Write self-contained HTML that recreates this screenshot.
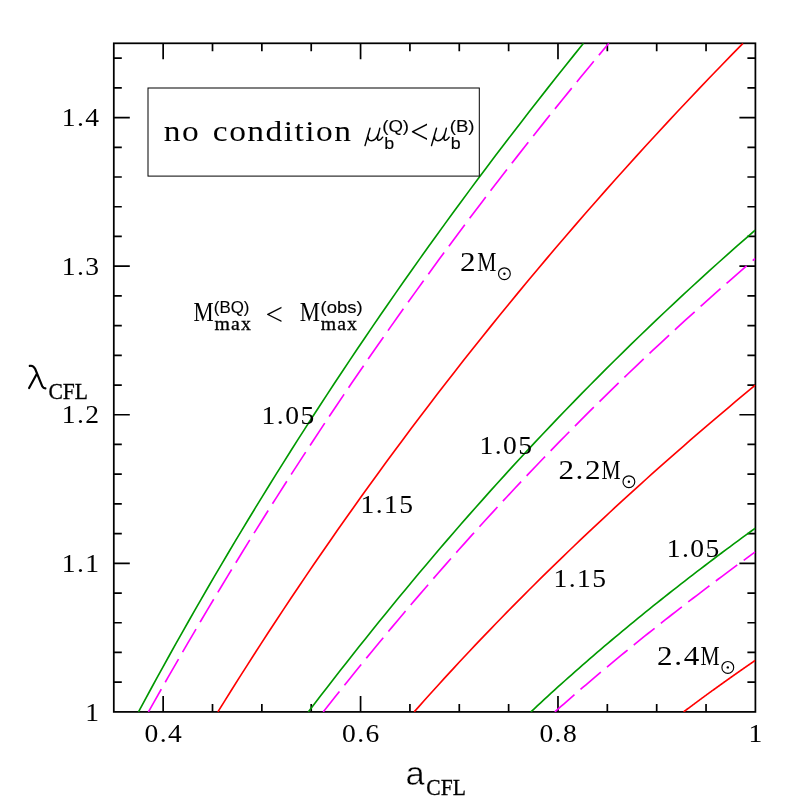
<!DOCTYPE html>
<html><head><meta charset="utf-8"><title>plot</title>
<style>html,body{margin:0;padding:0;background:#fff}svg{display:block}text{fill:#000}.lab{filter:grayscale(1)}</style></head>
<body><svg width="797" height="797" viewBox="0 0 797 797">
<rect width="797" height="797" fill="#fff"/>
<defs><clipPath id="c"><rect x="113.8" y="43.3" width="641.6" height="668.6"/></clipPath></defs>
<path d="M163.15,711.9 v-16 M163.15,43.3 v16 M212.51,711.9 v-8 M212.51,43.3 v8 M261.86,711.9 v-8 M261.86,43.3 v8 M311.22,711.9 v-8 M311.22,43.3 v8 M360.57,711.9 v-16 M360.57,43.3 v16 M409.92,711.9 v-8 M409.92,43.3 v8 M459.28,711.9 v-8 M459.28,43.3 v8 M508.63,711.9 v-8 M508.63,43.3 v8 M557.98,711.9 v-16 M557.98,43.3 v16 M607.34,711.9 v-8 M607.34,43.3 v8 M656.69,711.9 v-8 M656.69,43.3 v8 M706.05,711.9 v-8 M706.05,43.3 v8 M113.8,682.18 h8 M755.4,682.18 h-8 M113.8,652.47 h8 M755.4,652.47 h-8 M113.8,622.75 h8 M755.4,622.75 h-8 M113.8,593.04 h8 M755.4,593.04 h-8 M113.8,563.32 h16 M755.4,563.32 h-16 M113.8,533.61 h8 M755.4,533.61 h-8 M113.8,503.89 h8 M755.4,503.89 h-8 M113.8,474.18 h8 M755.4,474.18 h-8 M113.8,444.46 h8 M755.4,444.46 h-8 M113.8,414.74 h16 M755.4,414.74 h-16 M113.8,385.03 h8 M755.4,385.03 h-8 M113.8,355.31 h8 M755.4,355.31 h-8 M113.8,325.60 h8 M755.4,325.60 h-8 M113.8,295.88 h8 M755.4,295.88 h-8 M113.8,266.17 h16 M755.4,266.17 h-16 M113.8,236.45 h8 M755.4,236.45 h-8 M113.8,206.74 h8 M755.4,206.74 h-8 M113.8,177.02 h8 M755.4,177.02 h-8 M113.8,147.30 h8 M755.4,147.30 h-8 M113.8,117.59 h16 M755.4,117.59 h-16 M113.8,87.87 h8 M755.4,87.87 h-8 M113.8,58.16 h8 M755.4,58.16 h-8" stroke="#000" stroke-width="1.7" fill="none"/>
<rect x="113.8" y="43.3" width="641.6" height="668.6" fill="none" stroke="#000" stroke-width="1.75"/>
<g clip-path="url(#c)">
<path d="M138.49,711.90 L144.59,700.57 L150.74,689.24 L156.93,677.90 L163.17,666.57 L169.45,655.24 L175.77,643.91 L182.14,632.57 L188.56,621.24 L195.03,609.91 L201.54,598.58 L208.09,587.25 L214.70,575.91 L221.35,564.58 L228.05,553.25 L234.80,541.92 L241.59,530.58 L248.44,519.25 L255.33,507.92 L262.27,496.59 L269.27,485.26 L276.31,473.92 L283.40,462.59 L290.54,451.26 L297.73,439.93 L304.98,428.59 L312.27,417.26 L319.61,405.93 L327.01,394.60 L334.46,383.27 L341.96,371.93 L349.52,360.60 L357.12,349.27 L364.78,337.94 L372.49,326.61 L380.26,315.27 L388.08,303.94 L395.96,292.61 L403.89,281.28 L411.87,269.94 L419.91,258.61 L428.00,247.28 L436.15,235.95 L444.36,224.62 L452.62,213.28 L460.94,201.95 L469.31,190.62 L477.74,179.29 L486.23,167.95 L494.78,156.62 L503.39,145.29 L512.05,133.96 L520.77,122.63 L529.55,111.29 L538.39,99.96 L547.29,88.63 L556.24,77.30 L565.26,65.96 L574.34,54.63 L583.48,43.30" fill="none" stroke="#009900" stroke-width="1.65"/>
<path d="M148.43,711.90 L154.82,700.57 L161.24,689.24 L167.70,677.90 L174.21,666.57 L180.75,655.24 L187.34,643.91 L193.97,632.57 L200.64,621.24 L207.36,609.91 L214.12,598.58 L220.93,587.25 L227.78,575.91 L234.68,564.58 L241.62,553.25 L248.61,541.92 L255.64,530.58 L262.73,519.25 L269.86,507.92 L277.03,496.59 L284.26,485.26 L291.54,473.92 L298.86,462.59 L306.24,451.26 L313.66,439.93 L321.14,428.59 L328.67,417.26 L336.25,405.93 L343.88,394.60 L351.56,383.27 L359.30,371.93 L367.09,360.60 L374.94,349.27 L382.84,337.94 L390.79,326.61 L398.80,315.27 L406.87,303.94 L414.99,292.61 L423.17,281.28 L431.40,269.94 L439.70,258.61 L448.05,247.28 L456.46,235.95 L464.93,224.62 L473.46,213.28 L482.05,201.95 L490.70,190.62 L499.41,179.29 L508.18,167.95 L517.01,156.62 L525.91,145.29 L534.86,133.96 L543.88,122.63 L552.97,111.29 L562.12,99.96 L571.33,88.63 L580.61,77.30 L589.95,65.96 L599.36,54.63 L608.83,43.30" fill="none" stroke="#ff00ff" stroke-width="1.65" stroke-dasharray="26.7 8" stroke-dashoffset="0.6"/>
<path d="M217.85,711.90 L224.90,700.57 L232.00,689.24 L239.15,677.90 L246.35,666.57 L253.61,655.24 L260.93,643.91 L268.30,632.57 L275.72,621.24 L283.21,609.91 L290.75,598.58 L298.35,587.25 L306.01,575.91 L313.72,564.58 L321.50,553.25 L329.33,541.92 L337.23,530.58 L345.19,519.25 L353.21,507.92 L361.30,496.59 L369.44,485.26 L377.66,473.92 L385.93,462.59 L394.27,451.26 L402.68,439.93 L411.15,428.59 L419.69,417.26 L428.30,405.93 L436.98,394.60 L445.72,383.27 L454.54,371.93 L463.42,360.60 L472.37,349.27 L481.40,337.94 L490.50,326.61 L499.67,315.27 L508.91,303.94 L518.22,292.61 L527.61,281.28 L537.08,269.94 L546.62,258.61 L556.23,247.28 L565.93,235.95 L575.70,224.62 L585.54,213.28 L595.47,201.95 L605.47,190.62 L615.56,179.29 L625.72,167.95 L635.96,156.62 L646.29,145.29 L656.70,133.96 L667.19,122.63 L677.76,111.29 L688.42,99.96 L699.16,88.63 L709.98,77.30 L720.90,65.96 L731.89,54.63 L742.98,43.30" fill="none" stroke="#ff0000" stroke-width="1.65"/>
<path d="M308.28,711.90 L314.53,703.73 L320.80,695.57 L327.11,687.40 L333.45,679.24 L339.82,671.07 L346.23,662.90 L352.67,654.74 L359.14,646.57 L365.66,638.41 L372.20,630.24 L378.79,622.07 L385.42,613.91 L392.08,605.74 L398.79,597.57 L405.54,589.41 L412.32,581.24 L419.16,573.08 L426.03,564.91 L432.95,556.74 L439.91,548.58 L446.92,540.41 L453.98,532.25 L461.08,524.08 L468.24,515.91 L475.44,507.75 L482.69,499.58 L489.99,491.42 L497.34,483.25 L504.75,475.08 L512.21,466.92 L519.72,458.75 L527.29,450.58 L534.91,442.42 L542.59,434.25 L550.32,426.09 L558.12,417.92 L565.97,409.75 L573.88,401.59 L581.85,393.42 L589.89,385.26 L597.98,377.09 L606.14,368.92 L614.36,360.76 L622.65,352.59 L631.00,344.43 L639.41,336.26 L647.90,328.09 L656.45,319.93 L665.07,311.76 L673.75,303.59 L682.51,295.43 L691.34,287.26 L700.24,279.10 L709.21,270.93 L718.26,262.76 L727.38,254.60 L736.57,246.43 L745.84,238.27 L755.18,230.10" fill="none" stroke="#009900" stroke-width="1.65"/>
<path d="M323.20,711.90 L329.28,704.22 L335.39,696.53 L341.53,688.85 L347.70,681.16 L353.90,673.48 L360.14,665.79 L366.41,658.11 L372.71,650.42 L379.05,642.74 L385.43,635.05 L391.84,627.37 L398.28,619.68 L404.77,612.00 L411.29,604.31 L417.86,596.63 L424.46,588.94 L431.10,581.26 L437.79,573.57 L444.51,565.89 L451.28,558.21 L458.09,550.52 L464.95,542.84 L471.84,535.15 L478.79,527.47 L485.78,519.78 L492.81,512.10 L499.89,504.41 L507.02,496.73 L514.20,489.04 L521.43,481.36 L528.71,473.67 L536.03,465.99 L543.41,458.30 L550.84,450.62 L558.32,442.93 L565.85,435.25 L573.44,427.56 L581.08,419.88 L588.78,412.19 L596.53,404.51 L604.34,396.83 L612.21,389.14 L620.13,381.46 L628.11,373.77 L636.15,366.09 L644.25,358.40 L652.41,350.72 L660.63,343.03 L668.91,335.35 L677.25,327.66 L685.66,319.98 L694.13,312.29 L702.66,304.61 L711.26,296.92 L719.92,289.24 L728.65,281.55 L737.45,273.87 L746.31,266.18 L755.24,258.50" fill="none" stroke="#ff00ff" stroke-width="1.65" stroke-dasharray="26.7 8" stroke-dashoffset="0.6"/>
<path d="M414.19,711.90 L419.09,706.36 L424.02,700.82 L428.98,695.28 L433.97,689.74 L438.99,684.21 L444.04,678.67 L449.12,673.13 L454.23,667.59 L459.37,662.05 L464.54,656.51 L469.74,650.97 L474.97,645.43 L480.23,639.89 L485.52,634.35 L490.84,628.82 L496.19,623.28 L501.58,617.74 L506.99,612.20 L512.43,606.66 L517.90,601.12 L523.41,595.58 L528.94,590.04 L534.51,584.50 L540.10,578.96 L545.73,573.43 L551.38,567.89 L557.07,562.35 L562.78,556.81 L568.53,551.27 L574.31,545.73 L580.12,540.19 L585.96,534.65 L591.83,529.11 L597.73,523.57 L603.66,518.04 L609.62,512.50 L615.62,506.96 L621.64,501.42 L627.69,495.88 L633.78,490.34 L639.89,484.80 L646.04,479.26 L652.22,473.72 L658.43,468.18 L664.67,462.65 L670.94,457.11 L677.24,451.57 L683.57,446.03 L689.94,440.49 L696.33,434.95 L702.76,429.41 L709.21,423.87 L715.70,418.33 L722.22,412.79 L728.77,407.26 L735.35,401.72 L741.96,396.18 L748.61,390.64 L755.28,385.10" fill="none" stroke="#ff0000" stroke-width="1.65"/>
<path d="M530.86,711.90 L534.19,708.78 L537.53,705.67 L540.88,702.55 L544.26,699.44 L547.65,696.32 L551.05,693.21 L554.48,690.09 L557.92,686.98 L561.37,683.86 L564.85,680.75 L568.33,677.63 L571.84,674.52 L575.36,671.40 L578.90,668.29 L582.46,665.17 L586.03,662.06 L589.62,658.94 L593.23,655.83 L596.85,652.71 L600.49,649.59 L604.14,646.48 L607.82,643.36 L611.50,640.25 L615.21,637.13 L618.93,634.02 L622.67,630.90 L626.43,627.79 L630.20,624.67 L633.99,621.56 L637.79,618.44 L641.61,615.33 L645.45,612.21 L649.31,609.10 L653.18,605.98 L657.07,602.87 L660.97,599.75 L664.89,596.64 L668.83,593.52 L672.78,590.41 L676.76,587.29 L680.74,584.17 L684.75,581.06 L688.77,577.94 L692.81,574.83 L696.86,571.71 L700.93,568.60 L705.02,565.48 L709.12,562.37 L713.24,559.25 L717.38,556.14 L721.53,553.02 L725.70,549.91 L729.89,546.79 L734.09,543.68 L738.31,540.56 L742.55,537.45 L746.80,534.33 L751.07,531.22 L755.36,528.10" fill="none" stroke="#009900" stroke-width="1.65"/>
<path d="M554.81,711.90 L557.88,709.19 L560.96,706.48 L564.04,703.76 L567.14,701.05 L570.25,698.34 L573.38,695.63 L576.51,692.92 L579.65,690.21 L582.81,687.49 L585.98,684.78 L589.16,682.07 L592.35,679.36 L595.55,676.65 L598.76,673.93 L601.99,671.22 L605.23,668.51 L608.47,665.80 L611.73,663.09 L615.00,660.37 L618.29,657.66 L621.58,654.95 L624.88,652.24 L628.20,649.53 L631.53,646.82 L634.87,644.10 L638.22,641.39 L641.58,638.68 L644.96,635.97 L648.34,633.26 L651.74,630.54 L655.14,627.83 L658.56,625.12 L661.99,622.41 L665.44,619.70 L668.89,616.98 L672.36,614.27 L675.83,611.56 L679.32,608.85 L682.82,606.14 L686.33,603.43 L689.85,600.71 L693.38,598.00 L696.93,595.29 L700.49,592.58 L704.05,589.87 L707.63,587.15 L711.22,584.44 L714.83,581.73 L718.44,579.02 L722.06,576.31 L725.70,573.59 L729.35,570.88 L733.01,568.17 L736.68,565.46 L740.36,562.75 L744.05,560.04 L747.76,557.32 L751.48,554.61 L755.20,551.90" fill="none" stroke="#ff00ff" stroke-width="1.65" stroke-dasharray="26.7 8" stroke-dashoffset="0.6"/>
<path d="M683.60,711.90 L684.75,711.03 L685.91,710.15 L687.07,709.28 L688.23,708.41 L689.40,707.54 L690.56,706.66 L691.73,705.79 L692.90,704.92 L694.07,704.04 L695.24,703.17 L696.42,702.30 L697.60,701.43 L698.78,700.55 L699.96,699.68 L701.14,698.81 L702.33,697.93 L703.52,697.06 L704.71,696.19 L705.90,695.32 L707.09,694.44 L708.29,693.57 L709.49,692.70 L710.69,691.82 L711.89,690.95 L713.10,690.08 L714.30,689.21 L715.51,688.33 L716.72,687.46 L717.94,686.59 L719.15,685.71 L720.37,684.84 L721.59,683.97 L722.81,683.09 L724.03,682.22 L725.26,681.35 L726.49,680.48 L727.72,679.60 L728.95,678.73 L730.18,677.86 L731.42,676.98 L732.66,676.11 L733.90,675.24 L735.14,674.37 L736.38,673.49 L737.63,672.62 L738.88,671.75 L740.13,670.87 L741.38,670.00 L742.64,669.13 L743.89,668.26 L745.15,667.38 L746.41,666.51 L747.68,665.64 L748.94,664.76 L750.21,663.89 L751.48,663.02 L752.75,662.15 L754.02,661.27 L755.30,660.40" fill="none" stroke="#ff0000" stroke-width="1.65"/>
</g>
<g class="lab">
<text transform="translate(163.95,742.00) scale(1.12,1.0)" font-family="Liberation Serif" font-size="24.6" text-anchor="middle" letter-spacing="1.3">0.4</text>
<text transform="translate(361.37,742.00) scale(1.12,1.0)" font-family="Liberation Serif" font-size="24.6" text-anchor="middle" letter-spacing="1.3">0.6</text>
<text transform="translate(558.78,742.00) scale(1.12,1.0)" font-family="Liberation Serif" font-size="24.6" text-anchor="middle" letter-spacing="1.3">0.8</text>
<text transform="translate(756.20,742.00) scale(1.12,1.0)" font-family="Liberation Serif" font-size="24.6" text-anchor="middle" letter-spacing="1.3">1</text>
<text transform="translate(100.50,720.60) scale(1.12,1.0)" font-family="Liberation Serif" font-size="24.6" text-anchor="end" letter-spacing="1.3">1</text>
<text transform="translate(100.50,572.02) scale(1.12,1.0)" font-family="Liberation Serif" font-size="24.6" text-anchor="end" letter-spacing="1.3">1.1</text>
<text transform="translate(100.50,423.44) scale(1.12,1.0)" font-family="Liberation Serif" font-size="24.6" text-anchor="end" letter-spacing="1.3">1.2</text>
<text transform="translate(100.50,274.87) scale(1.12,1.0)" font-family="Liberation Serif" font-size="24.6" text-anchor="end" letter-spacing="1.3">1.3</text>
<text transform="translate(100.50,126.29) scale(1.12,1.0)" font-family="Liberation Serif" font-size="24.6" text-anchor="end" letter-spacing="1.3">1.4</text>
<text transform="translate(261.60,423.70) scale(1.12,1.0)" font-family="Liberation Serif" font-size="24.6" text-anchor="start" letter-spacing="1.3">1.05</text>
<text transform="translate(360.40,512.50) scale(1.12,1.0)" font-family="Liberation Serif" font-size="24.6" text-anchor="start" letter-spacing="1.3">1.15</text>
<text transform="translate(479.40,453.50) scale(1.12,1.0)" font-family="Liberation Serif" font-size="24.6" text-anchor="start" letter-spacing="1.3">1.05</text>
<text transform="translate(553.40,586.80) scale(1.12,1.0)" font-family="Liberation Serif" font-size="24.6" text-anchor="start" letter-spacing="1.3">1.15</text>
<text transform="translate(666.80,557.10) scale(1.12,1.0)" font-family="Liberation Serif" font-size="24.6" text-anchor="start" letter-spacing="1.3">1.05</text>
<text transform="translate(460.00,271.40) scale(1.1,1.0)" font-family="Liberation Serif" font-size="28.3" text-anchor="start" letter-spacing="1.5">2</text>
<text transform="translate(477.30,271.40) scale(0.76,1.0)" font-family="Liberation Serif" font-size="28.3" text-anchor="start">M</text>
<circle cx="504.4" cy="273.7" r="5.9" fill="none" stroke="#000" stroke-width="1.15"/><circle cx="504.4" cy="273.7" r="1.2" fill="#000"/>
<text transform="translate(558.40,479.00) scale(1.1,1.0)" font-family="Liberation Serif" font-size="28.3" text-anchor="start" letter-spacing="1.5">2.2</text>
<text transform="translate(601.40,479.00) scale(0.76,1.0)" font-family="Liberation Serif" font-size="28.3" text-anchor="start">M</text>
<circle cx="628.9" cy="481.7" r="5.9" fill="none" stroke="#000" stroke-width="1.15"/><circle cx="628.9" cy="481.7" r="1.2" fill="#000"/>
<text transform="translate(657.10,664.90) scale(1.1,1.0)" font-family="Liberation Serif" font-size="28.3" text-anchor="start" letter-spacing="1.5">2.4</text>
<text transform="translate(700.40,664.90) scale(0.76,1.0)" font-family="Liberation Serif" font-size="28.3" text-anchor="start">M</text>
<circle cx="727.8" cy="667.4" r="5.9" fill="none" stroke="#000" stroke-width="1.15"/><circle cx="727.8" cy="667.4" r="1.2" fill="#000"/>
<rect x="148" y="88" width="331.3" height="88.1" fill="none" stroke="#000" stroke-width="1"/>
<text transform="translate(163.80,140.70) scale(1.08,0.93)" font-family="Liberation Serif" font-size="31" text-anchor="start" letter-spacing="1.35" word-spacing="2.6">no condition</text>
<path transform="translate(0,0)" d="M370.0,128.3 L365.0,145.6 M368.1,136.6 C367.6,141.6 372.6,141.6 375.6,138.7 Q377.5,136.6 378.4,133.8 M379.8,128.3 L377.7,136.8 Q377.0,140.5 379.0,140.2 Q381.0,139.9 382.7,137.2" fill="none" stroke="#000" stroke-width="1.45" stroke-linecap="round" stroke-linejoin="round"/>
<text transform="translate(382.20,131.50) scale(1.15,1.0)" font-family="Liberation Sans" font-size="16.2" text-anchor="start" stroke="#000" stroke-width="0.12">(Q)</text>
<text transform="translate(384.30,149.00) scale(1.1,1.0)" font-family="Liberation Sans" font-size="16.2" text-anchor="start" stroke="#000" stroke-width="0.1">b</text>
<text transform="translate(410.20,142.60) scale(1.05,1.06)" font-family="Liberation Serif" font-size="31" text-anchor="start">&lt;</text>
<path transform="translate(66.5,0)" d="M370.0,128.3 L365.0,145.6 M368.1,136.6 C367.6,141.6 372.6,141.6 375.6,138.7 Q377.5,136.6 378.4,133.8 M379.8,128.3 L377.7,136.8 Q377.0,140.5 379.0,140.2 Q381.0,139.9 382.7,137.2" fill="none" stroke="#000" stroke-width="1.45" stroke-linecap="round" stroke-linejoin="round"/>
<text transform="translate(449.70,131.50) scale(1.15,1.0)" font-family="Liberation Sans" font-size="16.2" text-anchor="start" stroke="#000" stroke-width="0.12">(B)</text>
<text transform="translate(450.80,149.00) scale(1.1,1.0)" font-family="Liberation Sans" font-size="16.2" text-anchor="start" stroke="#000" stroke-width="0.1">b</text>
<text transform="translate(193.50,321.40) scale(0.82,1.0)" font-family="Liberation Serif" font-size="27.7" text-anchor="start">M</text>
<text transform="translate(213.80,313.40) scale(1.07,1.09)" font-family="Liberation Sans" font-size="15.8" text-anchor="start" stroke="#000" stroke-width="0.12">(BQ)</text>
<text transform="translate(214.60,330.20) scale(1.1,1.0)" font-family="Liberation Serif" font-size="18" text-anchor="start" letter-spacing="1.0" stroke="#000" stroke-width="0.3">max</text>
<text transform="translate(265.50,324.50) scale(1.0,1.0)" font-family="Liberation Serif" font-size="31" text-anchor="start">&lt;</text>
<text transform="translate(299.70,321.40) scale(0.82,1.0)" font-family="Liberation Serif" font-size="27.7" text-anchor="start">M</text>
<text transform="translate(320.60,313.40) scale(1.17,1.06)" font-family="Liberation Sans" font-size="15.8" text-anchor="start" stroke="#000" stroke-width="0.12">(obs)</text>
<text transform="translate(320.70,330.20) scale(1.1,1.0)" font-family="Liberation Serif" font-size="18" text-anchor="start" letter-spacing="1.0" stroke="#000" stroke-width="0.3">max</text>
<path d="M29.8,365.9 Q33.3,365.1 35.2,369 L42.4,386.6 Q43.3,388.3 45.4,388.4 M36.6,374.2 L29.1,388.0" fill="none" stroke="#000" stroke-width="2.15" stroke-linecap="round" stroke-linejoin="round"/>
<text transform="translate(48.50,399.20) scale(0.95,1.0)" font-family="Liberation Serif" font-size="22.7" text-anchor="start" stroke="#000" stroke-width="0.3">CFL</text>
<text stroke="#fff" stroke-width="0.5" transform="translate(405.50,785.00) scale(1.06,1.0)" font-family="Liberation Sans" font-size="32.6" text-anchor="start">a</text>
<text transform="translate(426.30,795.20) scale(0.95,1.0)" font-family="Liberation Serif" font-size="22.7" text-anchor="start" stroke="#000" stroke-width="0.3">CFL</text>
</g>
</svg></body></html>
